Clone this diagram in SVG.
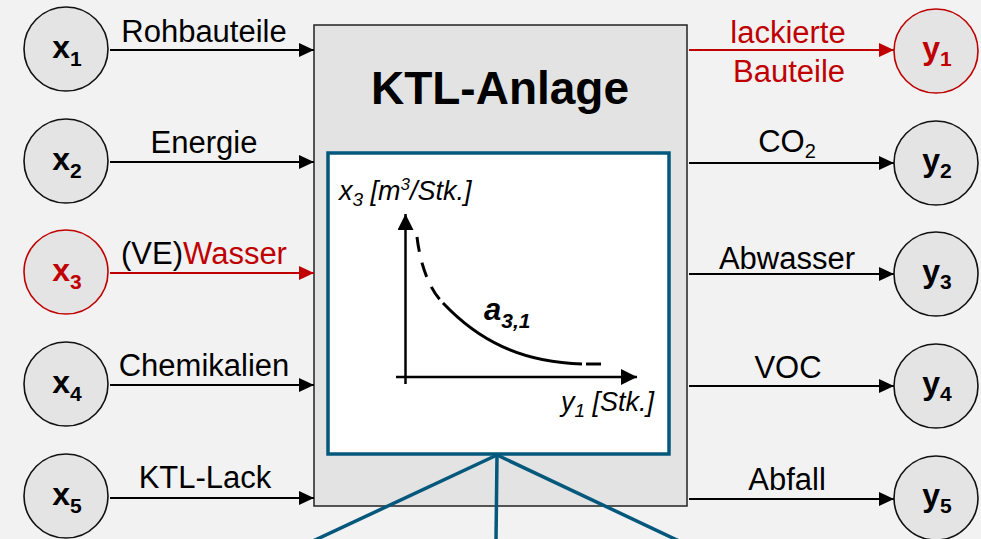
<svg xmlns="http://www.w3.org/2000/svg" width="981" height="539" viewBox="0 0 981 539">
<style>
text{font-family:"Liberation Sans",Arial,sans-serif;fill:#000}
.lbl{font-size:31px;text-anchor:middle}
.node{font-size:32px;font-weight:bold;text-anchor:middle}
.sub{font-size:21px}
.red{fill:#c00000}
.circ{fill:#e4e4e4;stroke:#111;stroke-width:1.6}
.circr{fill:#e4e4e4;stroke:#c00000;stroke-width:1.6}
.ar{stroke:#000;stroke-width:2;fill:none;marker-end:url(#ah)}
.arr{stroke:#c00000;stroke-width:2;fill:none;marker-end:url(#ahr)}
.gt{font-size:27px;font-style:italic}
.teal{stroke:#03587c;stroke-width:3.5;fill:none}
.panel{stroke:#03587c;stroke-width:3.5;fill:#fff}
</style>
<defs>
<marker id="ah" markerWidth="16" markerHeight="14" refX="15" refY="7" orient="auto" markerUnits="userSpaceOnUse"><path d="M0,0 L15,7 L0,14 z" fill="#000"/></marker>
<marker id="ahr" markerWidth="16" markerHeight="14" refX="15" refY="7" orient="auto" markerUnits="userSpaceOnUse"><path d="M0,0 L15,7 L0,14 z" fill="#c00000"/></marker>
<marker id="ahg" markerWidth="17" markerHeight="17" refX="16" refY="8" orient="auto" markerUnits="userSpaceOnUse"><path d="M0,0 L16,8 L0,16 z" fill="#000"/></marker>
</defs>
<rect width="981" height="539" fill="#f2f2f2"/>

<g id="anlage">
<rect x="314" y="25" width="373" height="481" fill="#e3e3e3" stroke="#222" stroke-width="1.5"/>
<text x="500" y="104" font-size="46" font-weight="bold" text-anchor="middle">KTL-Anlage</text>
</g>

<g id="teal-lines">
<line class="teal" x1="497" y1="455" x2="313" y2="541"/>
<line class="teal" x1="497" y1="455" x2="496" y2="541"/>
<line class="teal" x1="497" y1="455" x2="679" y2="541"/>
</g>

<g id="graph">
<rect x="328" y="153" width="341" height="301" class="panel"/>
<line x1="405.5" y1="384" x2="405.5" y2="214" stroke="#000" stroke-width="2.5" marker-end="url(#ahg)"/>
<line x1="396" y1="377" x2="637" y2="377" stroke="#000" stroke-width="2.5" marker-end="url(#ahg)"/>
<path d="M417,237 C420,262 428,288 443,303" fill="none" stroke="#000" stroke-width="3" stroke-dasharray="15 11"/>
<path d="M443,303 C478,340 520,362 582,364" fill="none" stroke="#000" stroke-width="3"/>
<line x1="586" y1="364" x2="601" y2="364" stroke="#000" stroke-width="3"/>
<text class="gt" x="339" y="200">x<tspan font-size="19" dy="6">3</tspan><tspan dy="-6"> [m</tspan><tspan font-size="17" dy="-10">3</tspan><tspan dy="10">/Stk.]</tspan></text>
<text x="484" y="320" font-size="31" font-weight="bold" font-style="italic">a<tspan font-size="21" dy="8">3,1</tspan></text>
<text class="gt" x="561" y="411">y<tspan font-size="19" dy="6">1</tspan><tspan dy="-6"> [Stk.]</tspan></text>
</g>

<g id="connectors">
<line class="ar" x1="110" y1="50" x2="314" y2="50"/>
<line class="ar" x1="110" y1="162" x2="314" y2="162"/>
<line class="arr" x1="110" y1="273" x2="314" y2="273"/>
<line class="ar" x1="110" y1="385" x2="314" y2="385"/>
<line class="ar" x1="110" y1="498" x2="314" y2="498"/>
<line class="arr" x1="689" y1="50" x2="894" y2="50"/>
<line class="ar" x1="689" y1="163" x2="894" y2="163"/>
<line class="ar" x1="689" y1="274" x2="894" y2="274"/>
<line class="ar" x1="689" y1="386" x2="894" y2="386"/>
<line class="ar" x1="689" y1="499" x2="894" y2="499"/>
<text class="lbl" x="204" y="42">Rohbauteile</text>
<text class="lbl" x="204" y="153">Energie</text>
<text class="lbl" x="204" y="264">(VE)<tspan class="red">Wasser</tspan></text>
<text class="lbl" x="204" y="376">Chemikalien</text>
<text class="lbl" x="205" y="488">KTL-Lack</text>
<text class="lbl red" x="788" y="43">lackierte</text>
<text class="lbl red" x="789" y="82">Bauteile</text>
<text class="lbl" x="787" y="152">CO<tspan font-size="20" dy="6">2</tspan></text>
<text class="lbl" x="787" y="269">Abwasser</text>
<text class="lbl" x="788" y="378">VOC</text>
<text class="lbl" x="787" y="490">Abfall</text>
</g>

<g id="x1"><circle class="circ" cx="66" cy="49" r="42"/><text class="node" x="67" y="58">x<tspan class="sub" dy="8">1</tspan></text></g>
<g id="x2"><circle class="circ" cx="66" cy="161" r="42"/><text class="node" x="67" y="170">x<tspan class="sub" dy="8">2</tspan></text></g>
<g id="x3"><circle class="circr" cx="66" cy="272" r="42"/><text class="node red" x="67" y="281">x<tspan class="sub" dy="8">3</tspan></text></g>
<g id="x4"><circle class="circ" cx="66" cy="384" r="42"/><text class="node" x="67" y="393">x<tspan class="sub" dy="8">4</tspan></text></g>
<g id="x5"><circle class="circ" cx="66" cy="496" r="42"/><text class="node" x="67" y="505">x<tspan class="sub" dy="8">5</tspan></text></g>

<g id="y1"><circle class="circr" cx="936" cy="51" r="42"/><text class="node red" x="937" y="59">y<tspan class="sub" dy="7">1</tspan></text></g>
<g id="y2"><circle class="circ" cx="936" cy="163" r="42"/><text class="node" x="937" y="171">y<tspan class="sub" dy="7">2</tspan></text></g>
<g id="y3"><circle class="circ" cx="936" cy="274" r="42"/><text class="node" x="937" y="282">y<tspan class="sub" dy="7">3</tspan></text></g>
<g id="y4"><circle class="circ" cx="936" cy="386" r="42"/><text class="node" x="937" y="394">y<tspan class="sub" dy="7">4</tspan></text></g>
<g id="y5"><circle class="circ" cx="936" cy="498" r="42"/><text class="node" x="937" y="506">y<tspan class="sub" dy="7">5</tspan></text></g>
</svg>
